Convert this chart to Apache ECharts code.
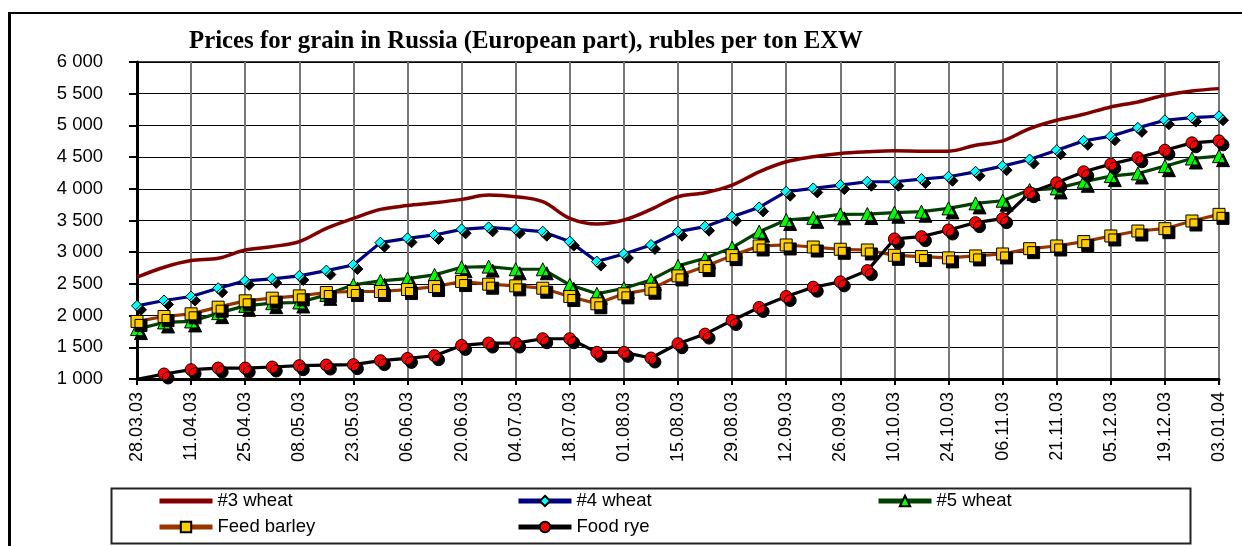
<!DOCTYPE html>
<html>
<head>
<meta charset="utf-8">
<script src="https://cdn.jsdelivr.net/npm/echarts@6/dist/echarts.min.js"></script>
<style>
html,body{margin:0;padding:0;background:#fff;}
#chart{width:1242px;height:546px;}
</style>
</head>
<body>
<div id="chart"></div>
<script>
const dates = ['28.03.03','04.04.03','11.04.03','18.04.03','25.04.03','30.04.03','08.05.03','16.05.03','23.05.03','30.05.03',
  '06.06.03','13.06.03','20.06.03','27.06.03','04.07.03','11.07.03','18.07.03','25.07.03','01.08.03','08.08.03',
  '15.08.03','22.08.03','29.08.03','05.09.03','12.09.03','19.09.03','26.09.03','03.10.03','10.10.03','17.10.03',
  '24.10.03','31.10.03','06.11.03','14.11.03','21.11.03','28.11.03','05.12.03','12.12.03','19.12.03','26.12.03','03.01.04'];

const wheat3 = [2605,2763,2868,2904,3035,3088,3167,3376,3534,3675,
  3735,3780,3833,3901,3875,3796,3534,3445,3508,3675,
  3875,3938,4058,4268,4426,4505,4557,4583,4599,4594,
  4594,4688,4756,4950,5081,5176,5291,5370,5475,5543,5580];

const wheat4 = [2154,2238,2301,2432,2548,2579,2626,2710,2799,3151,
  3219,3272,3361,3392,3361,3324,3167,2852,2972,3114,
  3324,3403,3560,3707,3954,4006,4058,4111,4111,4153,
  4190,4268,4357,4462,4609,4756,4829,4961,5081,5123,5144];

const wheat5 = [1787,1892,1908,2039,2154,2196,2207,2327,2485,2548,
  2582,2642,2763,2773,2731,2731,2485,2343,2432,2563,
  2784,2904,3072,3324,3508,3542,3597,3602,3623,3639,
  3691,3770,3812,3980,4006,4111,4200,4242,4357,4478,4515];

const barley = [1908,1986,2028,2133,2233,2275,2311,2364,2380,2380,
  2411,2458,2537,2495,2469,2432,2301,2186,2343,2416,
  2626,2773,2946,3098,3114,3082,3046,3035,2951,2931,
  2910,2941,2972,3056,3098,3167,3256,3334,3371,3492,3597];

const rye = [995,1079,1147,1173,1173,1189,1210,1220,1226,1289,
  1325,1367,1530,1567,1567,1635,1635,1420,1420,1331,
  1556,1708,1923,2128,2301,2448,2532,2710,3209,3245,
  3350,3466,3529,3938,4095,4268,4389,4489,4609,4725,4756];

const seriesNames = ['#3 wheat','#4 wheat','#5 wheat','Feed barley','Food rye'];
const titleText = 'Prices for grain in Russia (European part), rubles per ton EXW';

const FONT = 'Liberation Sans, Arial, sans-serif';
const shadow = {shadowColor:'#000', shadowOffsetX:4, shadowOffsetY:4, shadowBlur:0};

function markerSeries(name, data, lineColor, symbol, size, fill) {
  return {
    name: name, type: 'line', data: data, clip: true,
    symbol: symbol, symbolSize: size, showSymbol: true,
    lineStyle: {color: lineColor, width: 3.2},
    itemStyle: Object.assign({color: fill, borderColor: '#000', borderWidth: 1}, shadow),
    emphasis: {disabled: true}
  };
}

const chart = echarts.init(document.getElementById('chart'), null, {renderer:'canvas'});
const legendCommon = {
  orient: 'vertical', top: 491, padding: 0, itemWidth: 53, itemHeight: 13, itemGap: 6,
  textStyle: {fontFamily: FONT, fontSize: 18.5, color: '#000', lineHeight: 20},
  itemStyle: {shadowColor: 'rgba(0,0,0,0)', shadowOffsetX: 0, shadowOffsetY: 0},
  lineStyle: {width: 5},
  selectedMode: false
};
chart.setOption({
  animation: false,
  backgroundColor: '#fff',
  title: {
    text: titleText, left: 189, top: 29, padding: 0,
    textStyle: {fontFamily: 'Liberation Serif, Times New Roman, serif', fontWeight: 'bold', fontSize: 24.8, color: '#000'}
  },
  legend: [
    Object.assign({left: 157, data: [
      {name: seriesNames[0], itemStyle: {color: 'rgba(0,0,0,0)', borderColor: 'rgba(0,0,0,0)', borderWidth: 0}},
      seriesNames[3]]}, legendCommon),
    Object.assign({left: 516, data: [seriesNames[1], seriesNames[4]]}, legendCommon),
    Object.assign({left: 876, data: [seriesNames[2]]}, legendCommon)
  ],
  grid: {left: 137, right: 23, top: 62, bottom: 167, show: true, borderColor: '#444', borderWidth: 2, containLabel: false},
  xAxis: {
    type: 'category', data: dates, boundaryGap: false,
    axisLine: {lineStyle: {color: '#000', width: 3}},
    axisTick: {show: true, interval: 1, length: 6, lineStyle: {color: '#000', width: 2}},
    axisLabel: {interval: 1, rotate: 90, margin: 13, fontFamily: FONT, fontSize: 18, color: '#000'},
    splitLine: {show: true, interval: 1, lineStyle: {color: '#777', width: 2}}
  },
  yAxis: {
    type: 'value', min: 1000, max: 6000, interval: 500,
    axisLine: {show: true, lineStyle: {color: '#000', width: 3}},
    axisTick: {show: true, length: 8, lineStyle: {color: '#000', width: 2}},
    axisLabel: {margin: 34, fontFamily: FONT, fontSize: 18.5, color: '#000',
      formatter: v => String(v).replace(/\B(?=(\d{3})+(?!\d))/g, ' ')},
    splitLine: {show: true, lineStyle: {color: '#000', width: 1}}
  },
  graphic: [
    {type: 'line', shape: {x1: 9.5, y1: 12, x2: 9.5, y2: 546}, style: {stroke: '#000', lineWidth: 3}},
    {type: 'line', shape: {x1: 8, y1: 13, x2: 1242, y2: 13}, style: {stroke: '#000', lineWidth: 2}},
    {type: 'rect', shape: {x: 111.5, y: 488.5, width: 1079, height: 55}, style: {fill: 'none', stroke: '#222', lineWidth: 2}, z: -1}
  ],
  series: [
    {
      name: seriesNames[0], type: 'line', data: wheat3, smooth: 0.35, symbol: 'none', clip: true,
      lineStyle: {color: '#800000', width: 3.5}, itemStyle: {color: '#800000'}, emphasis: {disabled: true}
    },
    markerSeries(seriesNames[1], wheat4, '#000080', 'diamond', 11, '#00FFFF'),
    markerSeries(seriesNames[2], wheat5, '#004000', 'triangle', 13, '#00FF00'),
    markerSeries(seriesNames[3], barley, '#993300', 'rect', 12, '#FFCC00'),
    markerSeries(seriesNames[4], rye, '#000000', 'circle', 12, '#FF0000')
  ]
});
</script>
</body>
</html>
